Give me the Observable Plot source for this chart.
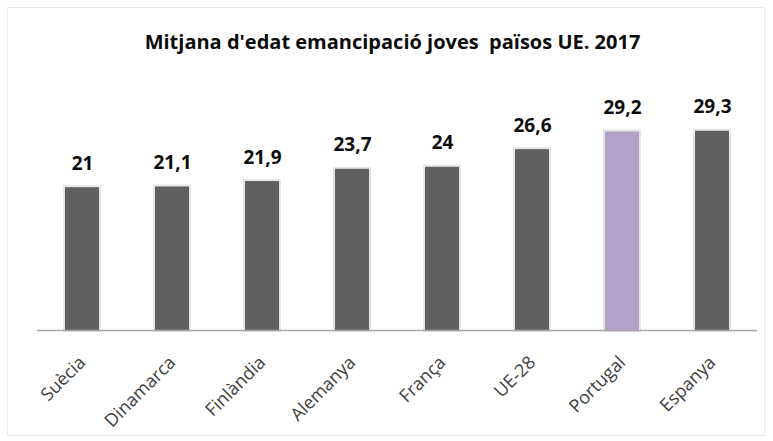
<!DOCTYPE html>
<html>
<head>
<meta charset="utf-8">
<script src="https://cdn.jsdelivr.net/npm/d3@7"></script>
<script src="https://cdn.jsdelivr.net/npm/@observablehq/plot@0.6"></script>
<style>
  html, body { margin: 0; padding: 0; background: #fff; }
  #wrap { position: relative; width: 773px; height: 441px; overflow: hidden; }
  #frame { position: absolute; left: 7px; top: 7px; width: 758px; height: 429px; border: 1px solid #ececec; box-sizing: border-box; }
  #title { position: relative; height: 80px; box-sizing: border-box; padding-top: 32px; padding-left: 12px;
    text-align: center; font: bold 20px/20px "Open Sans", sans-serif; color: #0d0d0d; white-space: pre; }
  #chart { position: relative; }
</style>
</head>
<body>
<div id="wrap">
  <div id="frame"></div>
  <div id="title">Mitjana d'edat emancipació joves  països UE. 2017</div>
  <div id="chart"></div>
</div>
<script>
const countries = ["Suècia", "Dinamarca", "Finlàndia", "Alemanya", "França", "UE-28", "Portugal", "Espanya"];
const ages = [21, 21.1, 21.9, 23.7, 24, 26.6, 29.2, 29.3];
const labels = ["21", "21,1", "21,9", "23,7", "24", "26,6", "29,2", "29,3"];
const highlight = "Portugal";

const data = countries.map((c, i) => ({country: c, age: ages[i], label: labels[i]}));

const chart = Plot.plot({
  width: 773,
  height: 361,
  marginTop: 46,
  marginBottom: 111,
  marginLeft: 37,
  marginRight: 16,
  x: {domain: countries, paddingInner: 0.62, paddingOuter: 0.31, axis: null},
  y: {domain: [0, 30], axis: null},
  style: {fontFamily: "'Open Sans', sans-serif", background: "transparent", overflow: "visible"},
  marks: [
    Plot.barY(data, {x: "country", y: "age", fill: "none", stroke: "#d4d4d4", strokeWidth: 4, strokeOpacity: 0.6}),
    Plot.barY(data, {x: "country", y: "age", fill: d => d.country === highlight ? "#b3a2c7" : "#606060"}),
    Plot.ruleY([0], {stroke: "#a6a6a6", strokeWidth: 1.5}),
    Plot.text(data, {x: "country", y: "age", text: "label", lineAnchor: "bottom", dy: -18,
      fontSize: 19, fontWeight: "bold", fill: "#0d0d0d"}),
    Plot.text(data, {x: "country", y: () => 0, text: "country", rotate: -45, textAnchor: "end",
      lineAnchor: "middle", dy: 29, dx: 0, fontSize: 18, fill: "#404040"})
  ]
});
document.getElementById("chart").appendChild(chart);
</script>
</body>
</html>
